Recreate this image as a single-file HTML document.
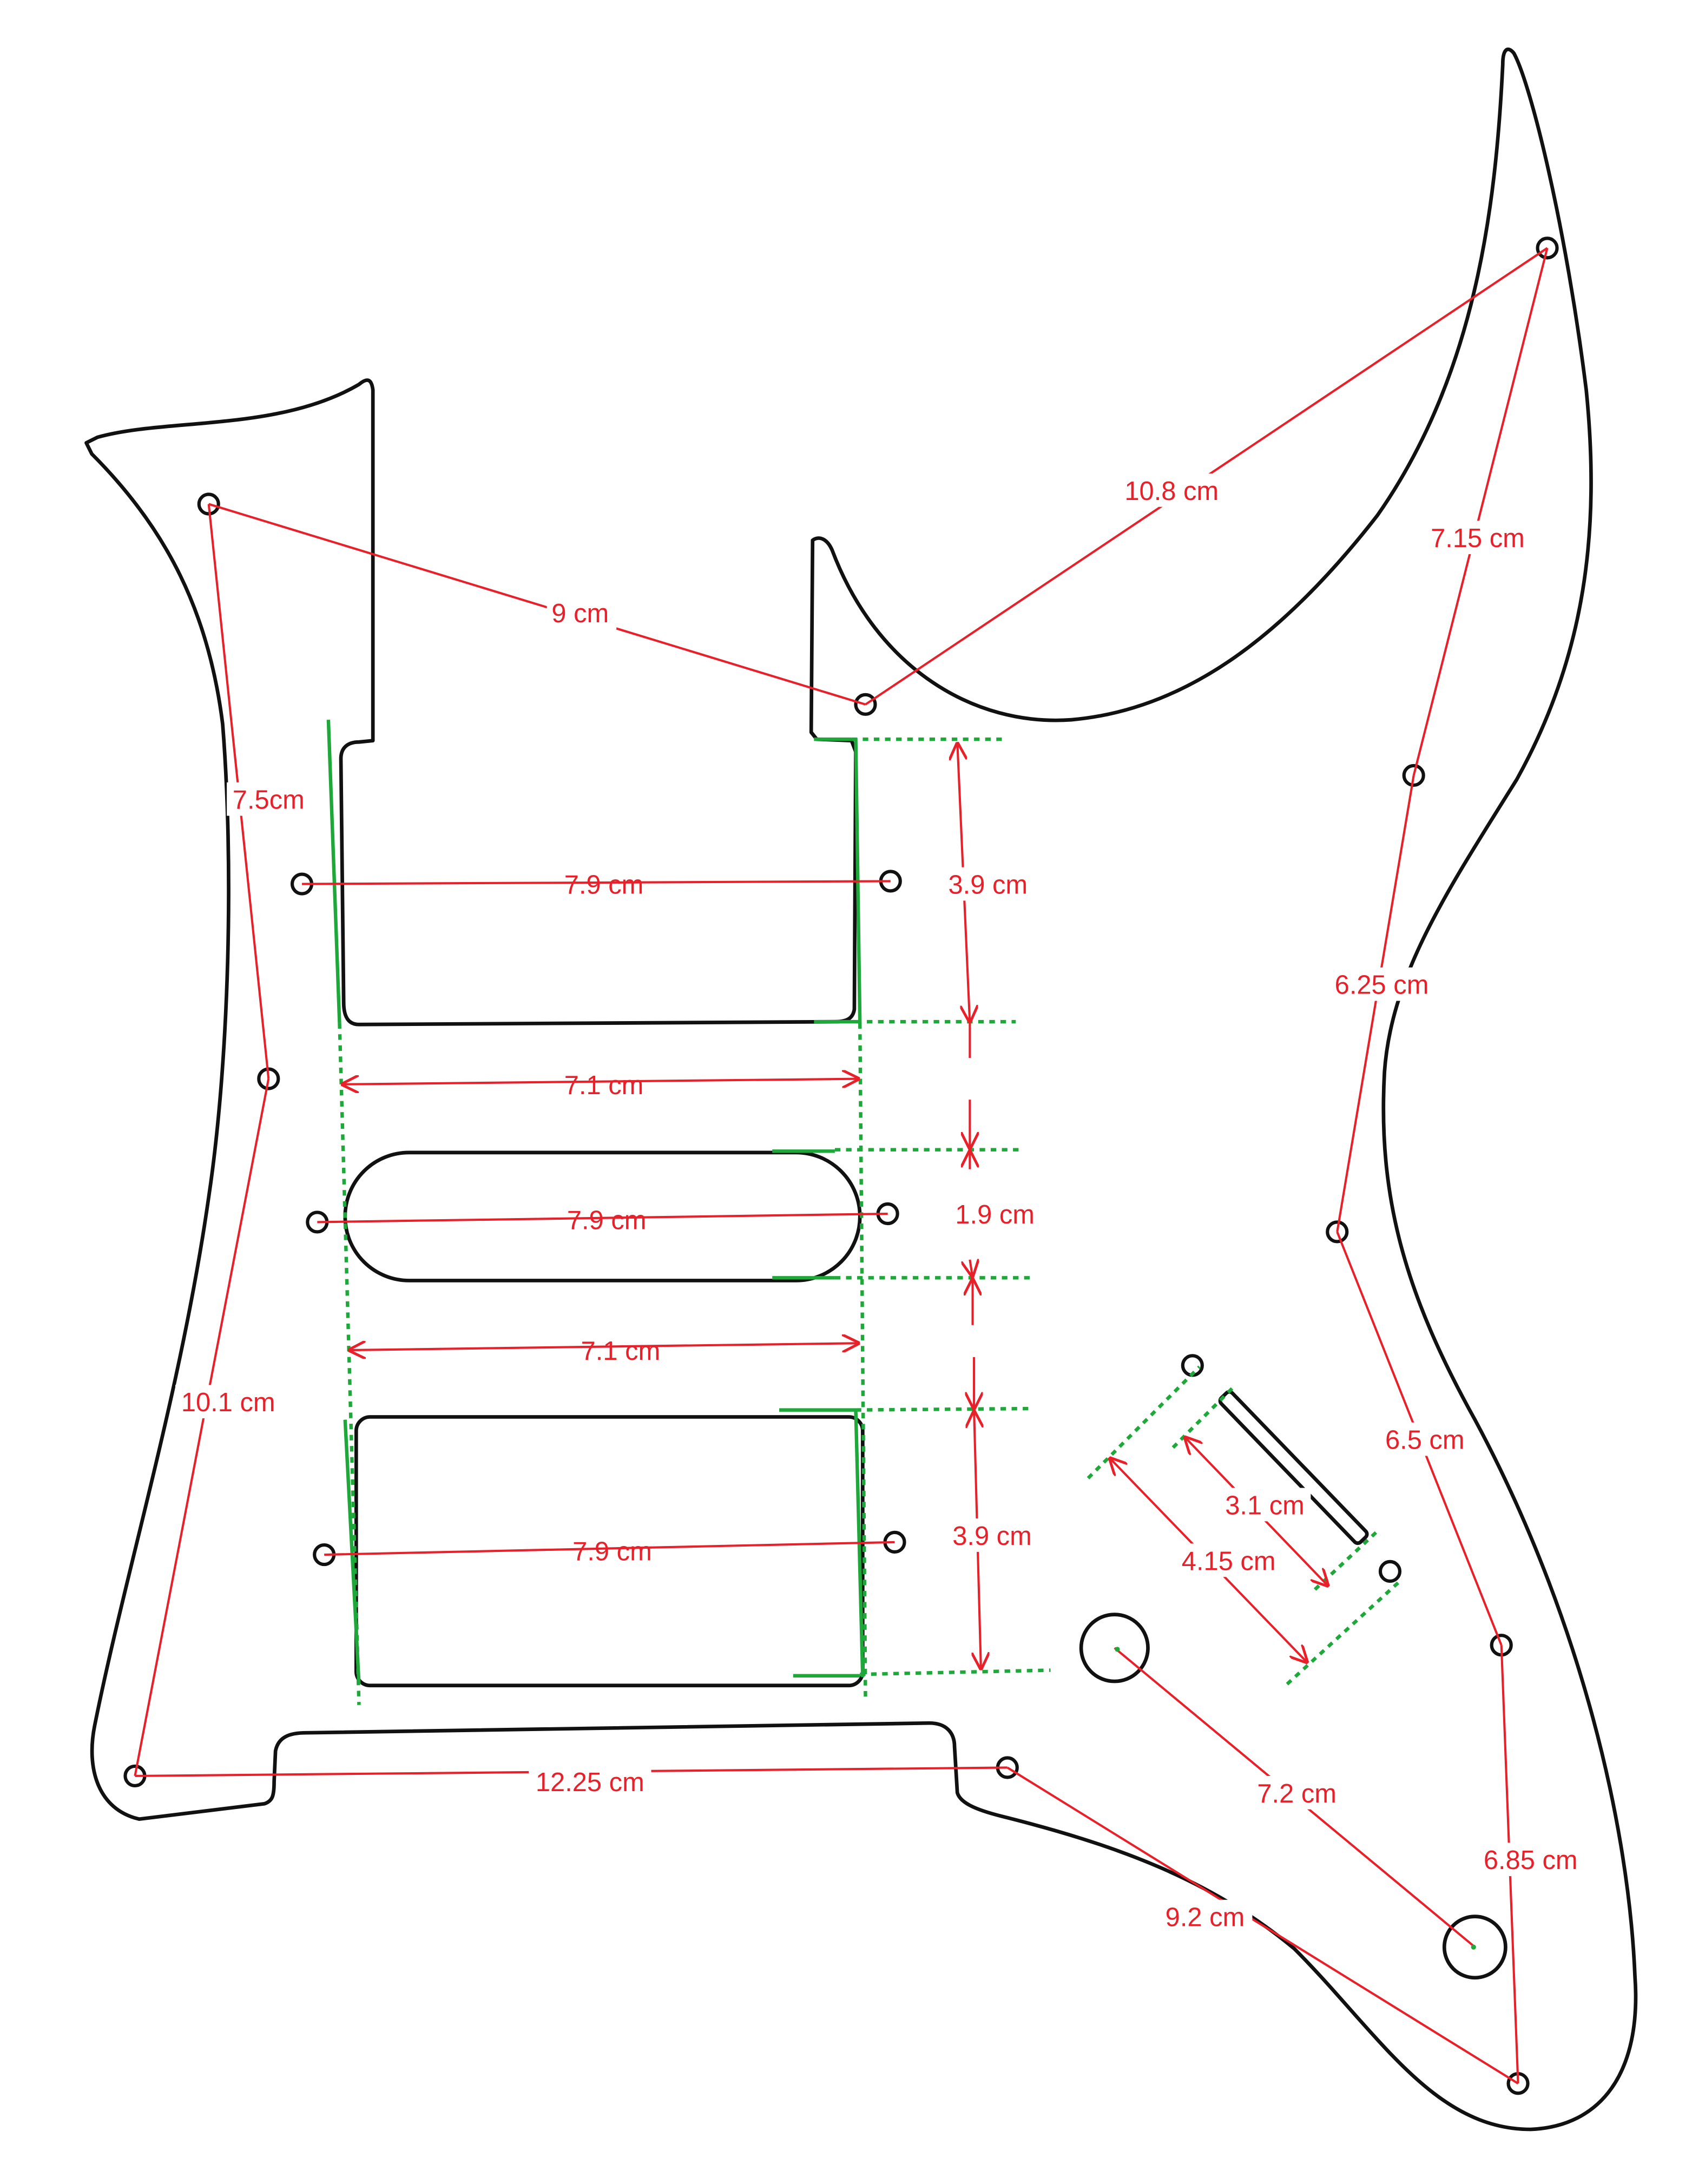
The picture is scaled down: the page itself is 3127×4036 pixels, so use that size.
<!DOCTYPE html>
<html><head><meta charset="utf-8">
<style>
html,body{margin:0;padding:0;background:#fff;}
svg{display:block;}
text{font-family:"Liberation Sans",sans-serif;font-size:19px;fill:#e8202a;}
</style></head>
<body>
<svg width="3127" height="4036" viewBox="0 0 1216 1569" xmlns="http://www.w3.org/2000/svg">
<defs>
<marker id="ah" viewBox="0 0 10 10" refX="10" refY="5" markerWidth="8" markerHeight="8" orient="auto-start-reverse">
<path d="M0,0 L10,5 L0,10" fill="none" stroke="#e8202a" stroke-width="1.5"/>
</marker>
</defs>
<rect width="1216" height="1569" fill="#fff"/>
<g fill="none" stroke="#111" stroke-width="2.6" stroke-linejoin="round">
<path d="M62,318 L66,326 C120,380 150,440 160,520 C168,620 165,760 150,860 C130,1000 90,1130 68,1240 C62,1270 70,1300 100,1307 L190,1296 C196,1294 197,1290 197,1280 L198,1258 C200,1248 208,1245 220,1245 L668,1238 C680,1238 686,1245 686,1255 L688,1288 C690,1295 700,1300 720,1305 C800,1325 870,1350 930,1400 C990,1460 1030,1530 1100,1530 C1150,1528 1180,1490 1175,1420 C1170,1300 1130,1150 1060,1020 C1010,930 990,860 995,770 C1000,700 1040,640 1090,560 C1140,470 1150,380 1140,280 C1125,160 1100,60 1088,38 C1083,32 1080,36 1080,46 C1075,150 1060,270 990,370 C920,460 850,510 770,517 C700,522 630,480 598,395 C594,386 588,385 584,388 L583,526 L587,531 L612,532 L615,540 L614,725 C613,732 608,734 600,734 L258,736 C250,736 247,730 247,720 L245,545 C245,537 250,533 258,533 L268,532 L268,280 C267,272 264,271 258,276 C200,310 120,300 70,314 Z"/>
<rect x="248" y="828" width="370" height="92" rx="46"/>
<rect x="256" y="1018" width="364" height="193" rx="10"/>
<g transform="rotate(46 930 1054)"><rect x="858" y="1049" width="144" height="11" rx="3"/></g>
<circle cx="801" cy="1184" r="24"/>
<circle cx="1060" cy="1399" r="22"/>
</g>
<g fill="none" stroke="#111" stroke-width="2.4">
<circle cx="150" cy="362" r="7"/><circle cx="217" cy="635" r="7"/><circle cx="640" cy="633" r="7"/>
<circle cx="193" cy="775" r="7"/><circle cx="228" cy="878" r="7"/><circle cx="638" cy="872" r="7"/>
<circle cx="233" cy="1117" r="7"/><circle cx="643" cy="1108" r="7"/><circle cx="97" cy="1276" r="7"/>
<circle cx="724" cy="1270" r="7"/><circle cx="622" cy="506" r="7"/><circle cx="1112" cy="178" r="7"/>
<circle cx="1016" cy="557" r="7"/><circle cx="961" cy="885" r="7"/><circle cx="857" cy="981" r="7"/>
<circle cx="999" cy="1129" r="7"/><circle cx="1079" cy="1182" r="7"/><circle cx="1091" cy="1497" r="7"/>
</g>
<g fill="none" stroke="#1fa83a" stroke-width="2.5">
<line x1="236" y1="517" x2="244" y2="735"/>
<line x1="615" y1="530" x2="618" y2="735"/>
<line x1="248" y1="1020" x2="258" y2="1210"/>
<line x1="615" y1="1013" x2="620" y2="1205"/>
<line x1="585" y1="531" x2="612" y2="531"/>
<line x1="585" y1="734" x2="615" y2="734"/>
<line x1="555" y1="827" x2="600" y2="827"/>
<line x1="555" y1="918" x2="600" y2="918"/>
<line x1="560" y1="1013" x2="615" y2="1013"/>
<line x1="570" y1="1204" x2="618" y2="1204"/>
</g>
<g fill="none" stroke="#1fa83a" stroke-width="2.5" stroke-dasharray="4,4">
<line x1="244" y1="735" x2="258" y2="1225"/>
<line x1="618" y1="735" x2="622" y2="1220"/>
<line x1="612" y1="531" x2="720" y2="531"/>
<line x1="615" y1="734" x2="730" y2="734"/>
<line x1="600" y1="826" x2="733" y2="826"/>
<line x1="600" y1="918" x2="740" y2="918"/>
<line x1="615" y1="1013" x2="740" y2="1012"/>
<line x1="618" y1="1203" x2="755" y2="1200"/>
<line x1="782" y1="1062" x2="862" y2="982"/>
<line x1="843" y1="1040" x2="888" y2="995"/>
<line x1="945" y1="1142" x2="990" y2="1100"/>
<line x1="925" y1="1210" x2="1005" y2="1137"/>
</g>
<g stroke="#e8202a" stroke-width="1.6" fill="none">
<line x1="150" y1="362" x2="622" y2="506"/>
<line x1="622" y1="506" x2="1112" y2="178"/>
<line x1="1112" y1="178" x2="1016" y2="557"/>
<line x1="1016" y1="557" x2="961" y2="885"/>
<line x1="961" y1="885" x2="1079" y2="1182"/>
<line x1="1079" y1="1182" x2="1091" y2="1497"/>
<line x1="724" y1="1270" x2="1091" y2="1497"/>
<line x1="97" y1="1276" x2="724" y2="1270"/>
<line x1="97" y1="1276" x2="193" y2="775"/>
<line x1="193" y1="775" x2="150" y2="362"/>
<line x1="801" y1="1184" x2="1060" y2="1399"/>
<line x1="217" y1="635" x2="640" y2="633"/>
<line x1="228" y1="878" x2="638" y2="872"/>
<line x1="233" y1="1117" x2="643" y2="1108"/>
<line x1="245" y1="779" x2="618" y2="775" marker-start="url(#ah)" marker-end="url(#ah)"/>
<line x1="250" y1="970" x2="618" y2="965" marker-start="url(#ah)" marker-end="url(#ah)"/>
<line x1="688" y1="533" x2="697" y2="735" marker-start="url(#ah)" marker-end="url(#ah)"/>
<line x1="697" y1="790" x2="697" y2="826" marker-end="url(#ah)"/>
<line x1="699" y1="952" x2="699" y2="918" marker-end="url(#ah)"/>
<line x1="700" y1="975" x2="700" y2="1013" marker-end="url(#ah)"/>
<line x1="700" y1="1013" x2="705" y2="1200" marker-start="url(#ah)" marker-end="url(#ah)"/>
<line x1="697" y1="735" x2="697" y2="760"/>
<line x1="697" y1="826" x2="697" y2="840" marker-start="url(#ah)"/>
<line x1="697" y1="905" x2="699" y2="918" marker-end="url(#ah)"/>
<line x1="851" y1="1032" x2="955" y2="1140" marker-start="url(#ah)" marker-end="url(#ah)"/>
<line x1="797" y1="1047" x2="940" y2="1195" marker-start="url(#ah)" marker-end="url(#ah)"/>
</g>
<g stroke="none" fill="#fff">
<rect x="393" y="428" width="50" height="24"/><rect x="804" y="340" width="76" height="24"/>
<rect x="1024" y="374" width="76" height="24"/><rect x="955" y="695" width="76" height="24"/>
<rect x="991" y="1022" width="66" height="24"/><rect x="1060" y="1324" width="80" height="24"/>
<rect x="832" y="1365" width="68" height="24"/><rect x="380" y="1268" width="88" height="24"/>
<rect x="126" y="995" width="76" height="24"/><rect x="163" y="562" width="60" height="24"/>
<rect x="898" y="1276" width="68" height="24"/>
<rect x="675" y="623" width="70" height="24"/><rect x="682" y="860" width="66" height="24"/>
<rect x="678" y="1091" width="70" height="24"/><rect x="876" y="1069" width="66" height="24"/>
<rect x="845" y="1109" width="76" height="24"/>
</g>
<g text-anchor="middle">
<text x="417" y="447">9 cm</text><text x="842" y="359">10.8 cm</text>
<text x="1062" y="393">7.15 cm</text><text x="993" y="714">6.25 cm</text>
<text x="1024" y="1041">6.5 cm</text><text x="1100" y="1343">6.85 cm</text>
<text x="866" y="1384">9.2 cm</text><text x="424" y="1287">12.25 cm</text>
<text x="164" y="1014">10.1 cm</text><text x="193" y="581">7.5cm</text>
<text x="932" y="1295">7.2 cm</text><text x="434" y="642">7.9 cm</text>
<text x="436" y="883">7.9 cm</text><text x="440" y="1121">7.9 cm</text>
<text x="434" y="786">7.1 cm</text><text x="446" y="977">7.1 cm</text>
<text x="710" y="642">3.9 cm</text><text x="715" y="879">1.9 cm</text>
<text x="713" y="1110">3.9 cm</text><text x="909" y="1088">3.1 cm</text>
<text x="883" y="1128">4.15 cm</text>
</g>
<circle cx="803" cy="1185" r="1.8" fill="#1fa83a"/>
<circle cx="1059" cy="1399" r="1.8" fill="#1fa83a"/>
</svg>
</body></html>
